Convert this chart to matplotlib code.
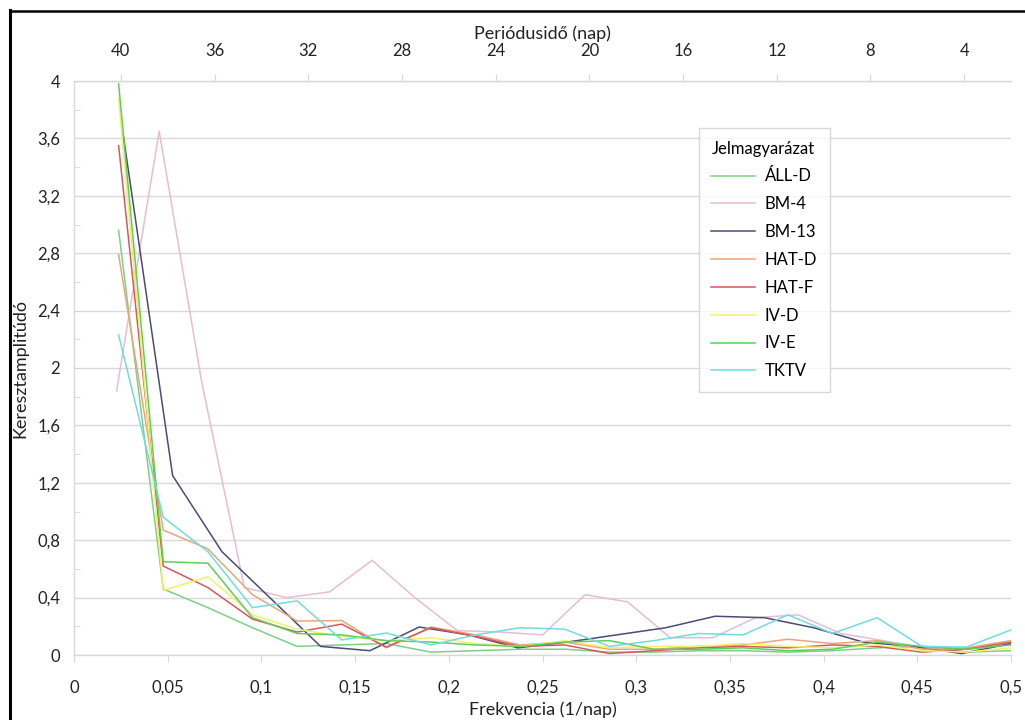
import numpy as np
import matplotlib
matplotlib.use("Agg")
import matplotlib.pyplot as plt
from matplotlib.lines import Line2D
from matplotlib.ticker import MultipleLocator, FuncFormatter

plt.rcParams['font.family'] = ['Lato', 'DejaVu Sans']

# frequency grids (1/nap) - the records have different lengths
freq_42 = np.arange(1, 22) / 42.0
freq_44 = np.arange(1, 23) / 44.0
freq_38 = np.arange(1, 20) / 38.0

all_d = [2.96, 0.46, 0.33, 0.19, 0.06, 0.07, 0.08, 0.02, 0.03, 0.04, 0.04,
         0.02, 0.02, 0.03, 0.03, 0.02, 0.03, 0.05, 0.06, 0.02, 0.03]
bm_4 = [1.84, 3.65, 1.90, 0.47, 0.40, 0.44, 0.66, 0.40, 0.17, 0.16, 0.14,
        0.42, 0.37, 0.12, 0.12, 0.26, 0.28, 0.15, 0.10, 0.05, 0.04, 0.08]
bm_13 = [3.62, 1.25, 0.72, 0.39, 0.06, 0.03, 0.195, 0.14, 0.05, 0.09,
         0.14, 0.19, 0.27, 0.26, 0.19, 0.09, 0.06, 0.01, 0.08]
hat_d = [2.79, 0.87, 0.74, 0.42, 0.237, 0.24, 0.05, 0.195, 0.14, 0.07, 0.09,
         0.04, 0.04, 0.06, 0.07, 0.11, 0.08, 0.10, 0.04, 0.05, 0.10]
hat_f = [3.55, 0.62, 0.47, 0.25, 0.16, 0.215, 0.055, 0.19, 0.13, 0.06, 0.07,
         0.01, 0.03, 0.05, 0.06, 0.05, 0.07, 0.06, 0.02, 0.04, 0.09]
iv_d = [3.88, 0.45, 0.545, 0.28, 0.18, 0.13, 0.10, 0.12, 0.08, 0.06, 0.10,
        0.05, 0.06, 0.06, 0.08, 0.06, 0.05, 0.07, 0.03, 0.02, 0.05]
iv_e = [3.98, 0.65, 0.64, 0.26, 0.15, 0.14, 0.10, 0.09, 0.07, 0.06, 0.09,
        0.10, 0.04, 0.04, 0.05, 0.03, 0.04, 0.09, 0.06, 0.04, 0.07]
tktv = [2.23, 0.96, 0.72, 0.33, 0.377, 0.105, 0.153, 0.07, 0.14, 0.19, 0.18,
        0.06, 0.10, 0.15, 0.14, 0.28, 0.15, 0.26, 0.06, 0.055, 0.175]

series = [
    ("ÁLL-D", freq_42, all_d, "#7fcf86"),
    ("BM-4", freq_44, bm_4, "#e6bdd1"),
    ("BM-13", freq_38, bm_13, "#4b4b74"),
    ("HAT-D", freq_42, hat_d, "#eba57a"),
    ("HAT-F", freq_42, hat_f, "#d65a5a"),
    ("IV-D", freq_42, iv_d, "#f3f06a"),
    ("IV-E", freq_42, iv_e, "#5ccf5c"),
    ("TKTV", freq_42, tktv, "#6fdde0"),
]

period_ticks = [40, 36, 32, 28, 24, 20, 16, 12, 8, 4]

fig = plt.figure(figsize=(10.25, 7.2), dpi=100)
ax = fig.add_axes([74 / 1025, 65 / 720, 937 / 1025, 574 / 720])

for name, f, v, c in series:
    ax.plot(f, v, color=c, lw=1.1, label=name, zorder=3)

grid_c = "#d9d9d9"
txt_c = "#222222"
ax.set_xlim(0, 0.5)
ax.set_ylim(0, 4)
ax.yaxis.set_major_locator(MultipleLocator(0.4))
ax.yaxis.set_minor_locator(MultipleLocator(0.2))
ax.xaxis.set_major_locator(MultipleLocator(0.05))
comma = FuncFormatter(lambda val, pos: ("%g" % round(val, 3)).replace(".", ","))
ax.xaxis.set_major_formatter(comma)
ax.yaxis.set_major_formatter(comma)
ax.grid(axis="y", color=grid_c, lw=1.0, zorder=0)
ax.spines["right"].set_visible(False)
for s in ["left", "bottom", "top"]:
    ax.spines[s].set_color(grid_c)
    ax.spines[s].set_linewidth(1.0)
ax.tick_params(axis="x", direction="out", length=5, color=grid_c, pad=13,
               labelsize=12, labelcolor=txt_c)
ax.tick_params(axis="y", which="major", direction="in", length=0, pad=10,
               labelsize=12, labelcolor=txt_c)
ax.tick_params(axis="y", which="minor", direction="in", length=4, color=grid_c)

ax.set_xlabel("Frekvencia (1/nap)", fontsize=13, color=txt_c, labelpad=4)
ax.set_ylabel("Keresztamplitúdó", fontsize=13, color=txt_c, labelpad=6)

# period axis on top, linear in days
top = ax.secondary_xaxis("top", functions=(lambda f: 42 - 80 * f,
                                           lambda p: (42 - p) / 80))
top.set_xticks(period_ticks)
top.set_xticklabels([str(p) for p in period_ticks])
top.spines["top"].set_color(grid_c)
top.tick_params(direction="out", length=5, color=grid_c, pad=11,
                labelsize=12, labelcolor=txt_c)
top.set_xlabel("Periódusidő (nap)", fontsize=13, color=txt_c, labelpad=3)

handles = [Line2D([], [], color=c, lw=1.1) for _, _, _, c in series]
labels = [n for n, _, _, _ in series]
leg = ax.legend(handles, labels, title="Jelmagyarázat", loc="upper left",
                bbox_to_anchor=(0.667, 0.918), frameon=True, fancybox=False,
                edgecolor="#d0d0d0", fontsize=12, title_fontsize=12,
                handlelength=2.6, handletextpad=0.6, labelspacing=0.71,
                borderpad=0.75, borderaxespad=0)
leg.get_frame().set_linewidth(1.0)
leg._legend_box.align = "left"

# outer frame (left and top edges)
fig.add_artist(Line2D([10 / 1025, 10 / 1025], [0, 1 - 10 / 720],
                      color="black", lw=2.2, transform=fig.transFigure))
fig.add_artist(Line2D([10 / 1025, 1], [1 - 11 / 720, 1 - 11 / 720],
                      color="black", lw=1.8, transform=fig.transFigure))

fig.savefig("out.png", dpi=100, facecolor="white")
